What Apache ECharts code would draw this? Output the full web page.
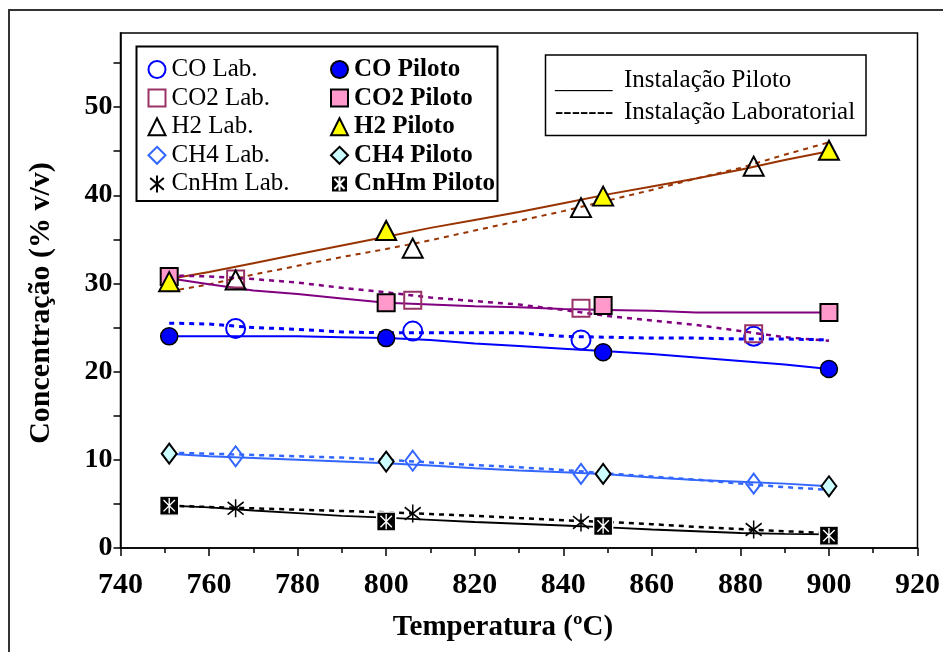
<!DOCTYPE html>
<html><head><meta charset="utf-8">
<script src="https://cdn.jsdelivr.net/npm/echarts@6/dist/echarts.min.js"></script>
<style>html,body{margin:0;padding:0;background:#fff;}#c{width:943px;height:652px;}</style>
</head><body><div id="c"></div>
<script>
// ---- data ----
const xTicks = [740,760,780,800,820,840,860,880,900,920];
const yTickLabels = [0,10,20,30,40,50];
const yMinorTicks = [0,5,10,15,20,25,30,35,40,45,50,55];
const lineTemps = [751,760,770,780,790,800,810,820,830,840,850,860,870,880,890,900];
const pilotTemps = [751,800,849,900];
const labTemps = [766,806,844,883];

const coPilot = [24.0,23.8,22.2,20.3];
const coLab = [24.9,24.6,23.6,24.0];
const co2Pilot = [30.8,27.8,27.5,26.7];
const co2Lab = [30.5,28.1,27.2,24.3];
const h2Pilot = [30.2,36.0,39.9,45.1];
const h2Lab = [30.4,34.0,38.6,43.3];
const ch4Pilot = [10.7,9.8,8.4,7.0];
const ch4Lab = [10.4,9.9,8.4,7.3];
const cnhmPilot = [4.8,3.0,2.5,1.4];
const cnhmLab = [4.5,3.9,2.9,2.1];

const coPilotLine = [24.0,24.0,24.0,24.0,23.9,23.8,23.6,23.2,22.9,22.6,22.3,22.0,21.6,21.2,20.8,20.3];
const coLabLine = [25.5,25.4,25.0,24.8,24.5,24.4,24.4,24.4,24.4,24.0,23.9,23.8,23.8,23.7,23.7,23.6];
const co2PilotLine = [30.6,29.9,29.2,28.8,28.3,27.8,27.6,27.4,27.3,27.1,27.0,26.9,26.7,26.7,26.7,26.7];
const co2LabLine = [30.9,30.8,30.5,30.1,29.5,29.0,28.4,28.0,27.6,27.0,26.3,25.8,25.3,24.6,23.9,23.5];
const h2PilotLine = [30.5,31.3,32.3,33.3,34.3,35.3,36.3,37.2,38.1,39.1,40.1,41.0,41.9,42.9,44.0,45.0];
const h2LabLine = [29.1,29.9,31.0,32.0,33.0,33.9,34.9,36.0,37.1,38.2,39.4,40.6,41.9,43.1,44.6,46.0];
const ch4PilotLine = [10.7,10.4,10.2,10.0,9.8,9.6,9.35,9.05,8.8,8.6,8.35,8.0,7.7,7.5,7.3,7.0];
const ch4LabLine = [10.8,10.7,10.55,10.4,10.25,10.0,9.7,9.4,9.15,8.85,8.45,8.1,7.75,7.3,6.9,6.6];
const cnhmPilotLine = [4.8,4.6,4.25,3.95,3.65,3.45,3.2,2.95,2.75,2.55,2.35,2.1,1.9,1.7,1.6,1.55];
const cnhmLabLine = [4.8,4.65,4.5,4.35,4.2,4.05,3.85,3.65,3.4,3.15,2.95,2.7,2.4,2.15,1.9,1.7];

const labNames = ['CO Lab.','CO2 Lab.','H2 Lab.','CH4 Lab.','CnHm Lab.'];
const pilotNames = ['CO Piloto','CO2 Piloto','H2 Piloto','CH4 Piloto','CnHm Piloto'];
const legendNoteSolid = '_____';
const legendNoteDash = '-------';
const legendNoteTexts = ['Instalação Piloto','Instalação Laboratorial'];
const yTitle = 'Concentração (% v/v)';
const xTitle = 'Temperatura (ºC)';

// ---- build ----
const FONT = 'Liberation Serif';
const zip = (xs, ys) => xs.map((x,i)=>[x, ys[i]]);
const CLEAR = 'rgba(255,255,255,0)';
const ASTER = 'path://M10,0L10,20M2,3L18,17M18,3L2,17';
const ASTER_SQ = 'path://M0,0L20,0L20,20L0,20Z M10,2L10,18M4,4L16,16M16,4L4,16';

function line(vals, color, dashed, width){
  return {type:'line', data: zip(lineTemps, vals), symbol:'none', silent:true, z:2,
    lineStyle:{color, width: width||2, type: dashed ? [5,5] : 'solid'}};
}
function pts(name, temps, vals, symbol, size, fill, border, bw, z){
  return {type:'scatter', name, data: zip(temps, vals), symbol, symbolSize: size, z: z,
    itemStyle:{color: fill, borderColor: border, borderWidth: bw, opacity:1}};
}

const series = [
  line(h2PilotLine,'#993300',false,2), line(h2LabLine,'#993300',true,2),
  line(co2PilotLine,'#800080',false,2), line(co2LabLine,'#800080',true,2.5),
  line(coPilotLine,'#0000FF',false,2), line(coLabLine,'#0000FF',true,3),
  line(ch4PilotLine,'#3366FF',false,2), line(ch4LabLine,'#3366FF',true,2.5),
  line(cnhmPilotLine,'#000000',false,1.8), line(cnhmLabLine,'#000000',true,2.5),
  pts(labNames[0], labTemps, coLab, 'circle', 19, CLEAR, '#0000FF', 2, 3),
  pts(labNames[1], labTemps, co2Lab, 'rect', 17, CLEAR, '#993366', 2, 3),
  pts(labNames[2], labTemps, h2Lab, 'triangle', [20,19], CLEAR, '#000000', 2, 3),
  pts(labNames[3], labTemps, ch4Lab, 'diamond', [15,20], CLEAR, '#3366FF', 2, 3),
  pts(labNames[4], labTemps, cnhmLab, ASTER, [16,18], CLEAR, '#000000', 1.6, 3),
  pts(pilotNames[0], pilotTemps, coPilot, 'circle', 17, '#0000FF', '#000000', 1.5, 4),
  pts(pilotNames[1], pilotTemps, co2Pilot, 'rect', 17, '#FF99CC', '#000000', 2, 4),
  pts(pilotNames[2], pilotTemps, h2Pilot, 'triangle', [20,19], '#FFFF00', '#000000', 2, 4),
  pts(pilotNames[3], pilotTemps, ch4Pilot, 'diamond', [15,20], '#CCFFFF', '#000000', 2, 4),
  pts(pilotNames[4], pilotTemps, cnhmPilot, ASTER_SQ, 19, '#000000', '#FFFFFF', 1.4, 4)
];

const legendText = {fontFamily: FONT, fontSize: 25, color:'#000', lineHeight: 20, padding:[0,0,0,1]};
const option = {
  animation: false,
  backgroundColor: '#fff',
  grid: {left:120.5, top:33, right:25, bottom:104, show:true, borderColor:'#000', borderWidth:1.5, backgroundColor:'#fff'},
  xAxis: {type:'value', min: xTicks[0], max: xTicks[xTicks.length-1], interval: 20,
    axisLine:{show:true, onZero:false, lineStyle:{color:'#000', width:1.5}},
    axisTick:{show:true, inside:false, length:8, lineStyle:{color:'#000', width:1.5}},
    minorTick:{show:true, splitNumber:2, length:5, lineStyle:{color:'#000', width:1.5}},
    splitLine:{show:false},
    axisLabel:{fontFamily: FONT, fontWeight:'bold', fontSize:30, color:'#000', margin:22}},
  yAxis: {type:'value', min:0, max:58.4,
    axisLine:{show:true, onZero:false, lineStyle:{color:'#000', width:1.5}},
    axisTick:{show:true, inside:false, length:7, lineStyle:{color:'#000', width:1.5},
      customValues: yMinorTicks},
    splitLine:{show:false},
    axisLabel:{fontFamily: FONT, fontWeight:'bold', fontSize:28, color:'#000', margin:8,
      customValues: yTickLabels}},
  legend: [
    {left:142.5, top:52, orient:'vertical', itemWidth:17, itemHeight:17, itemGap:3.6,
      data: labNames, textStyle: legendText, selectedMode:false},
    {left:325, top:52, orient:'vertical', itemWidth:17, itemHeight:17, itemGap:3.6,
      data: pilotNames, textStyle: Object.assign({}, legendText, {fontWeight:'bold'}), selectedMode:false}
  ],
  graphic: [
    {type:'rect', z:-10, shape:{x:9, y:10, width:980, height:700}, style:{fill:'#fff', stroke:'#333', lineWidth:2}},
    {type:'rect', z:1, shape:{x:136.5, y:46.5, width:361, height:154.5}, style:{fill:'#fff', stroke:'#000', lineWidth:2}},
    {type:'rect', z:1, shape:{x:545.5, y:55, width:320.5, height:80.5}, style:{fill:'#fff', stroke:'#000', lineWidth:1.5}},
    {type:'text', z:5, x:555, y:82, style:{text: legendNoteSolid, font:'23px "'+FONT+'"', fill:'#000', textVerticalAlign:'middle'}},
    {type:'text', z:5, x:624, y:80, style:{text: legendNoteTexts[0], font:'25px "'+FONT+'"', fill:'#000', textVerticalAlign:'middle'}},
    {type:'text', z:5, x:555, y:112, style:{text: legendNoteDash, font:'25px "'+FONT+'"', fill:'#000', textVerticalAlign:'middle'}},
    {type:'text', z:5, x:624, y:112, style:{text: legendNoteTexts[1], font:'25px "'+FONT+'"', fill:'#000', textVerticalAlign:'middle'}},
    {type:'text', z:5, x:41, y:303, rotation: Math.PI/2, style:{text: yTitle, font:'bold 30px "'+FONT+'"', fill:'#000', textAlign:'center', textVerticalAlign:'middle'}},
    {type:'text', z:5, x:503, y:628, style:{text: xTitle, font:'bold 29px "'+FONT+'"', fill:'#000', textAlign:'center', textVerticalAlign:'middle'}}
  ],
  series
};
const chart = echarts.init(document.getElementById('c'), null, {renderer:'canvas'});
chart.setOption(option);
</script></body></html>
